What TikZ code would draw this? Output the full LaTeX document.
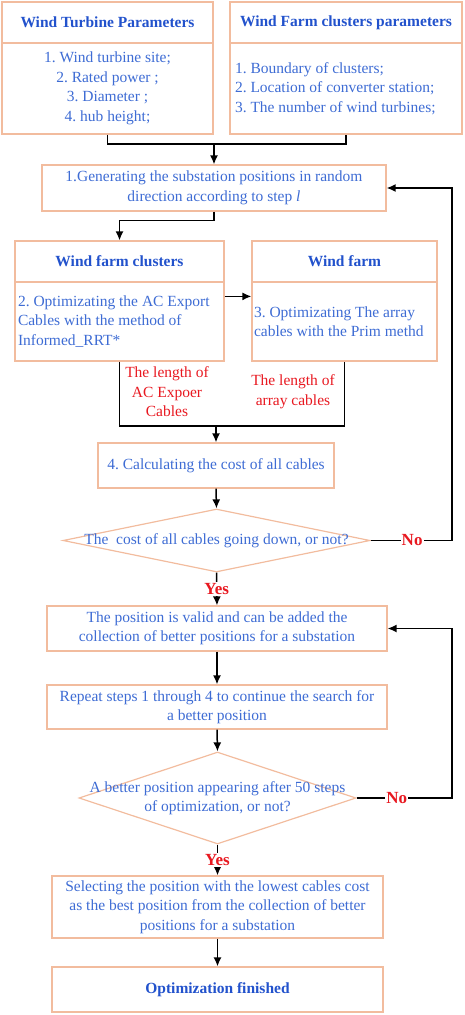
\documentclass[tikz,border=0pt]{standalone}
\usepackage{fontspec}
\setmainfont{Liberation Serif}
\usetikzlibrary{arrows.meta,shapes.geometric}
\definecolor{boxline}{RGB}{242,188,158}
\definecolor{txtblue}{RGB}{62,108,212}
\definecolor{ttlblue}{RGB}{34,82,204}
\definecolor{lblred}{RGB}{232,24,32}
\newcommand{\boxfont}{\fontsize{15.5}{19.5}\selectfont\frenchspacing}
\tikzstyle{edge} = [draw,line width=1.5pt,-]
\tikzstyle{dedge} = [draw,line width=1.5pt,-{Latex[length=9pt,width=8pt]}]
\tikzset{
  stepbox/.style = {draw=boxline, line width=1.2pt, inner sep=0pt, align=center,
    text=txtblue, font=\boxfont},
  titlebox/.style = {stepbox, text=ttlblue, font=\boxfont\bfseries},
  decision/.style = {diamond, draw=boxline, line width=1.2pt, inner sep=0pt},% losange vide, texte a part
  dectext/.style = {align=center, inner sep=0pt, text=txtblue, font=\boxfont},
  lengthlbl/.style = {align=center, inner sep=0pt, text=lblred, font=\boxfont},
  answer/.style = {fill=white, inner sep=1pt, text=lblred, font=\fontsize{17}{20}\selectfont\bfseries},
}
\begin{document}
\begin{tikzpicture}[x=1pt,y=-1pt]
    \path[use as bounding box] (0,0) rectangle (464,1015);

        % parametres d'entree
        \node[titlebox, minimum width=211pt, minimum height=41pt] (tpTitle) at (107.5,22.5) {Wind Turbine Parameters};
        \node[stepbox, minimum width=211pt, minimum height=91pt] (tpBody) at (107.5,88.5) {1. Wind turbine site;\\2. Rated power ;\\3. Diameter ;\\4. hub height;};
        \node[titlebox, minimum width=232pt, minimum height=41pt] (fpTitle) at (346,22.5) {Wind Farm clusters parameters};
        \node[stepbox, minimum width=232pt, minimum height=91pt, text width=222pt, align=flush left] (fpBody) at (346,88.5) {1. Boundary of clusters;\\2. Location of converter station;\\3. The number of wind turbines;};

        % boucle de recherche
        \node[stepbox, minimum width=344pt, minimum height=46pt] (step1) at (214,188) {1.Generating the substation positions in random\\direction according to step \textit{l}};
        \node[titlebox, minimum width=209pt, minimum height=41pt] (wfcTitle) at (119.5,261.5) {Wind farm clusters};
        \node[stepbox, minimum width=209pt, minimum height=79pt, text width=203pt, align=flush left] (wfcBody) at (119.5,321.5) {2. Optimizating the AC Export\\Cables with the method of\\Informed\_RRT*};
        \node[titlebox, minimum width=185pt, minimum height=41pt] (wfTitle) at (344.5,261.5) {Wind farm};
        \node[stepbox, minimum width=185pt, minimum height=79pt, text width=181pt, align=flush left] (wfBody) at (344.5,321.5) {3. Optimizating The array\\cables with the Prim methd};
        \node[lengthlbl] (acLen) at (167,392) {The length of\\AC Expoer\\Cables};
        \node[lengthlbl] (arrLen) at (293,391.5) {The length of\\array cables};
        \node[stepbox, minimum width=236pt, minimum height=45pt] (step4) at (216,465.5) {4. Calculating the cost of all cables};
        \node[decision, minimum width=307pt, minimum height=63pt] (dec1) at (216.5,540.5) {};
        \node[dectext] (dec1Text) at (dec1.center) {The\ \ cost of all cables going down, or not?};

        % meilleures positions
        \node[stepbox, minimum width=340pt, minimum height=45pt] (valid) at (217,628.5) {The position is valid and can be added the\\collection of better positions for a substation};
        \node[stepbox, minimum width=340pt, minimum height=44pt] (again) at (217,707) {Repeat steps 1 through 4 to continue the search for\\a better position};
        \node[decision, minimum width=277pt, minimum height=92pt] (dec2) at (217.5,798) {};
        \node[dectext] (dec2Text) at (dec2.center) {A better position appearing after 50 steps\\of optimization, or not?};
        \node[stepbox, minimum width=331pt, minimum height=62pt] (select) at (217.5,907) {Selecting the position with the lowest cables cost\\as the best position from the collection of better\\positions for a substation};
        \node[titlebox, minimum width=331pt, minimum height=45pt] (finish) at (217.5,989.5) {Optimization finished};

        \coordinate (join1) at (214,144);
        \coordinate (join2) at (216,426);
        \coordinate (back1) at (452,540.5);
        \coordinate (back2) at (452,798);

        \path[edge] (tpBody.south) |- (join1) -| (fpBody.south);
        \path[dedge] (join1) -- (step1.north);
        \path[dedge] (step1.south) -- ++(0,9) -| (wfcTitle.north);
        \path[dedge] ([yshift=-15pt]wfcBody.north east) -- ([yshift=-15pt]wfBody.north west);
        \path[edge] (wfcBody.south) |- (join2) -| (wfBody.south);
        \path[dedge] (join2) -- (step4.north);
        \path[dedge] (step4.south) -- (dec1.north);
        \path[dedge] (dec1.south) -- node[answer] (yes1) {Yes} (valid.north);
        \path[dedge] (dec1.east) -- node[answer, pos=0.51] (no1) {No} (back1) |- (step1.east);
        \path[dedge] (valid.south) -- (again.north);
        \path[dedge] (again.south) -- (dec2.north);
        \path[dedge] (dec2.south) -- node[answer] (yes2) {Yes} (select.north);
        \path[dedge] (dec2.east) -- node[answer, pos=0.42] (no2) {No} (back2) |- (valid.east);
        \path[dedge] (select.south) -- (finish.north);

\end{tikzpicture}
\end{document}
